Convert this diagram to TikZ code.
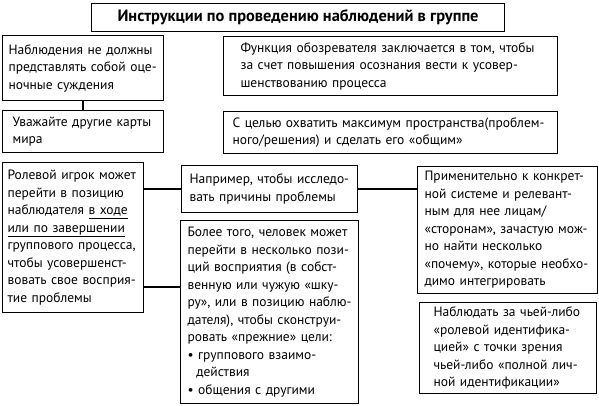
\documentclass[tikz,border=0pt]{standalone}
\usepackage{fontspec}
\setmainfont{PT Sans}
\usetikzlibrary{calc}
\tikzset{
  box/.style={draw, line width=1.1pt, anchor=north west, align=left,
    font=\fontsize{13.5}{17.5}\selectfont, inner ysep=0pt},
  conn/.style={line width=2.6pt}
}
\begin{document}
\begin{tikzpicture}[x=1pt,y=-1pt]
\useasboundingbox[fill=white] (0,0) rectangle (599,406);
\node[box, minimum width=413pt, minimum height=28pt, align=center, font=\bfseries\fontsize{16.4}{19}\selectfont] (title) at (91,3) {Инструкции по проведению наблюдений в группе};
\node[box, minimum width=161pt, minimum height=65pt, text width=149pt, inner xsep=6pt] (b1) at (2,35) {Наблюдения не должны\\представлять собой оце-\\ночные суждения};
\node[box, minimum width=161pt, minimum height=42pt, text width=141pt, inner xsep=10pt] (b2) at (2,110) {Уважайте другие карты\\мира};
\node[box, minimum width=334pt, minimum height=59pt, text width=300pt, inner xsep=17pt] (b3) at (223,36) {Функция обозревателя заключается в том, чтобы\\за счет повышения осознания вести к усовер-\\шенствованию процесса};
\node[box, minimum width=334pt, minimum height=42pt, text width=316pt, inner xsep=9pt] (b4) at (223,111) {С целью охватить максимум пространства(проблем-\\ного/решения) и сделать его «общим»};
\node[box, minimum width=141pt, minimum height=150pt, text width=131pt, inner xsep=5pt] (b5) at (2,162) {Ролевой игрок может\\перейти в позицию\\наблюдателя \underline{в ходе}\\\underline{или по завершении}\\группового процесса,\\чтобы усовершенст-\\вовать свое восприя-\\тие проблемы};
\node[box, minimum width=176pt, minimum height=47pt, text width=160pt, inner xsep=8pt] (b6) at (181,165) {Например, чтобы исследо-\\вать причины проблемы};
\node[box, minimum width=178pt, minimum height=183pt, text width=164pt, inner xsep=7pt] (b7) at (180,220) {Более того, человек может\\перейти в несколько пози-\\ций восприятия (в собст-\\венную или чужую «шку-\\ру», или в позицию наблю-\\дателя), чтобы сконструи-\\ровать «прежние» цели:\\• группового взаимо-\\\hspace*{0.65em}действия\\• общения с другими};
\node[box, minimum width=180pt, minimum height=127pt, text width=166pt, inner xsep=7pt] (b8) at (417,166) {Применительно к конкрет-\\ной системе и релевант-\\ным для нее лицам/\\«сторонам», зачастую мож-\\но найти несколько\\«почему», которые необхо-\\димо интегрировать};
\node[box, minimum width=177pt, minimum height=91pt, text width=149pt, inner xsep=14pt] (b9) at (419,302) {Наблюдать за чьей-либо\\«ролевой идентифика-\\цией» с точки зрения\\чьей-либо «полной лич-\\ной идентификации»};
\coordinate (j7) at (180,287);
\draw[conn] (b1.south) -- (b2.north);
\draw[conn] (b5.east |- b6.west) -- (b6.west);
\draw[conn] (b5.east |- j7) -- (j7);
\draw[conn] (b6.east) -- (b6.east -| b8.west);
\end{tikzpicture}
\end{document}
